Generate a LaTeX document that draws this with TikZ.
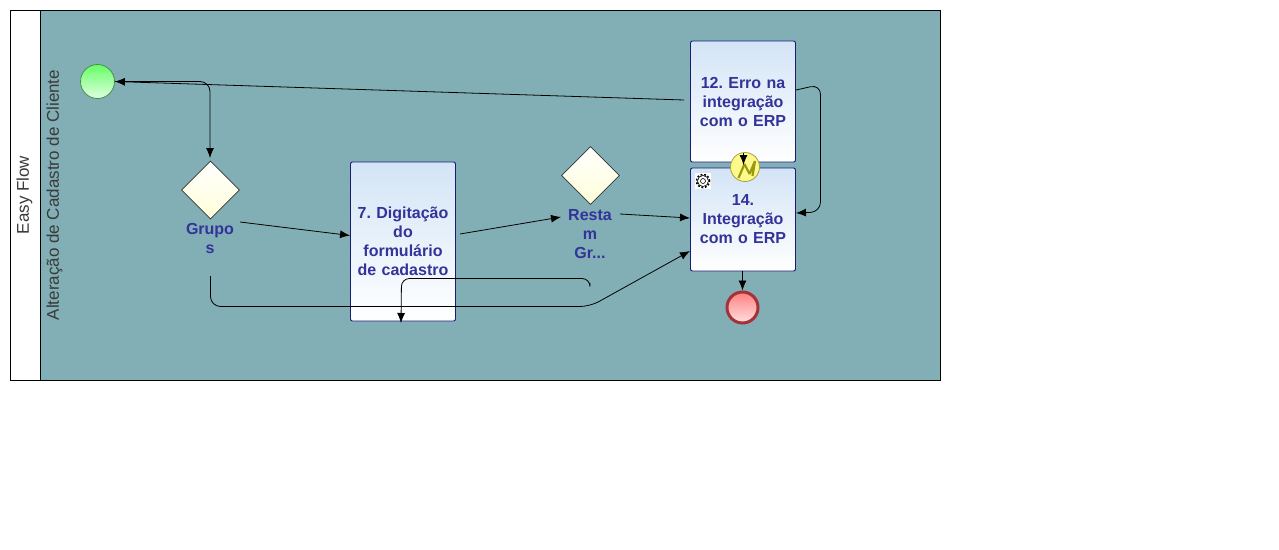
\documentclass[tikz,border=0pt]{standalone}
\usepackage{fontspec}
\setmainfont{Liberation Sans}
\usetikzlibrary{arrows.meta,shapes.geometric}
\definecolor{lanebg}{HTML}{82AFB5}
\definecolor{tasktext}{HTML}{33339A}
\definecolor{lanetext}{HTML}{3A3A3A}
\definecolor{taskedge}{HTML}{1A1A78}
\definecolor{tasktop}{HTML}{D3E4F6}
\definecolor{endedge}{HTML}{A53238}
\definecolor{boltcolor}{HTML}{9A9A12}
\begin{document}
\begin{tikzpicture}[
		x=1pt, y=-1pt,
		lane/.style={draw=black, line width=1pt},
		lanelabel/.style={rotate=90, text=lanetext, font=\fontsize{17}{20}\selectfont, inner sep=0pt},
		taskbox/.style={
				draw=taskedge,
				line width=0.9pt,
				rounded corners=2pt,
				top color=tasktop,
				bottom color=white,
				minimum width=105pt,
				text width=100pt,
				inner sep=0pt,
				align=center,
				text=tasktext,
				font=\frenchspacing\bfseries\fontsize{16}{19}\selectfont
			},
		gatebox/.style={
				diamond,
				draw=black!80,
				line width=0.6pt,
				top color=white,
				bottom color=yellow!15!white,
				minimum width=58pt,
				minimum height=58pt,
				inner sep=0pt
			},
		gatelabel/.style={
				text=tasktext,
				align=center,
				inner sep=0pt,
				font=\bfseries\fontsize{16}{19}\selectfont
			},
		flow/.style={draw=black, line width=0.8pt, rounded corners=10pt, -{Latex[length=10pt,width=8pt]}}
	]
	\useasboundingbox (0,0) rectangle (1279,549);
	% lane
	\path[fill=white] (0,0) rectangle (1279,549);
	\draw[lane, fill=lanebg] (10.5,10.5) rectangle (940.5,380.5);
	\draw[lane, fill=white] (10.5,10.5) rectangle (40.5,380.5);
	\node[lanelabel] (poolname) at (24.5,195) {Easy Flow};
	\node[lanelabel] (lanename) at (54.5,195) {Alteração de Cadastro de Cliente};
	% tasks
	\node[taskbox, minimum height=159pt] (digitacao) at (403,241.5) {7. Digitação\\do\\formulário\\de cadastro};
	\node[taskbox, minimum height=121pt] (erro) at (743,101.5) {12. Erro na\\integração\\com o ERP};
	\node[taskbox, minimum height=103pt] (integracao) at (743,219.5) {14.\\Integração\\com o ERP};
	% events
	\node[circle, draw=green!35!black!70, line width=0.8pt, top color=green!60!white, bottom color=green!12!white,
		minimum size=34pt, inner sep=0pt] (inicio) at (97.5,81.5) {};
	\node[circle, draw=endedge, line width=3pt, top color=red!50!white, bottom color=red!12!white,
		minimum size=31pt, inner sep=0pt] (fim) at (742.5,307.5) {};
	\node[circle, draw=yellow!60!black, line width=0.8pt, fill=yellow!45!white,
		minimum size=29pt, inner sep=0pt] (falha) at (745,167) {};
	\draw[boltcolor, line width=2.2pt, line join=bevel] (738.5,178) -- (744.5,164) -- (749.5,174) -- (755,161) -- (752.5,176);
	% gateways
	\node[gatebox] (grupos) at (210.5,190) {};
	\node[gatebox] (resta) at (590.5,175.5) {};
	\node[gatelabel] (gruposlabel) at (210,238) {Grupo\\s};
	\node[gatelabel] (restalabel) at (590,234.5) {Resta\\m\\Gr...};
	% gear
	\node[fill=white, minimum size=16pt, inner sep=0pt] (gear) at (703,181) {};
	\draw[black, line width=1.6pt, dash pattern=on 1.8pt off 1.8pt] (gear) circle (6.5pt);
	\draw[black, line width=0.6pt, fill=white] (gear) circle (5.5pt);
	\draw[black, line width=0.6pt] (gear) circle (2.5pt);
	% free ends of the connectors
	\coordinate (c0) at (210,158);
	\coordinate (c1) at (684,100);
	\coordinate (c2) at (240,222);
	\coordinate (c3) at (460,234);
	\coordinate (c4) at (561,217);
	\coordinate (c5) at (620,214);
	\coordinate (c6) at (690,218);
	\coordinate (c7) at (210.5,276);
	\coordinate (c8) at (690,251);
	\coordinate (c9) at (590,283);
	\coordinate (c10) at (401,323);
	\coordinate (c11) at (796,90);
	\coordinate (c12) at (796,213);
	\coordinate (c13) at (743.5,153);
	\coordinate (c14) at (743.5,165);
	% connectors
	\draw[flow] (inicio.east) -- (210,81.5) -- (c0);
	\draw[flow] (c1) -- (inicio.east);
	\draw[flow] (c2) -- (digitacao.west |- 0,235.5);
	\draw[flow] (c3) -- (c4);
	\draw[flow] (c5) -- (c6);
	\draw[flow] (c7) -- (210.5,306.5) -- (590,306.5) -- (c8);
	\draw[flow, rounded corners=8pt] (c9) -- (590,278.5) -- (401.5,278.5) -- (c10);
	\draw[flow] (c11) -- (820.5,84.5) -- (820.5,212) -- (c12);
	\draw[flow] (c13) -- (c14);
	\draw[flow] (integracao.south -| fim.north) -- (fim.north);
\end{tikzpicture}
\end{document}
